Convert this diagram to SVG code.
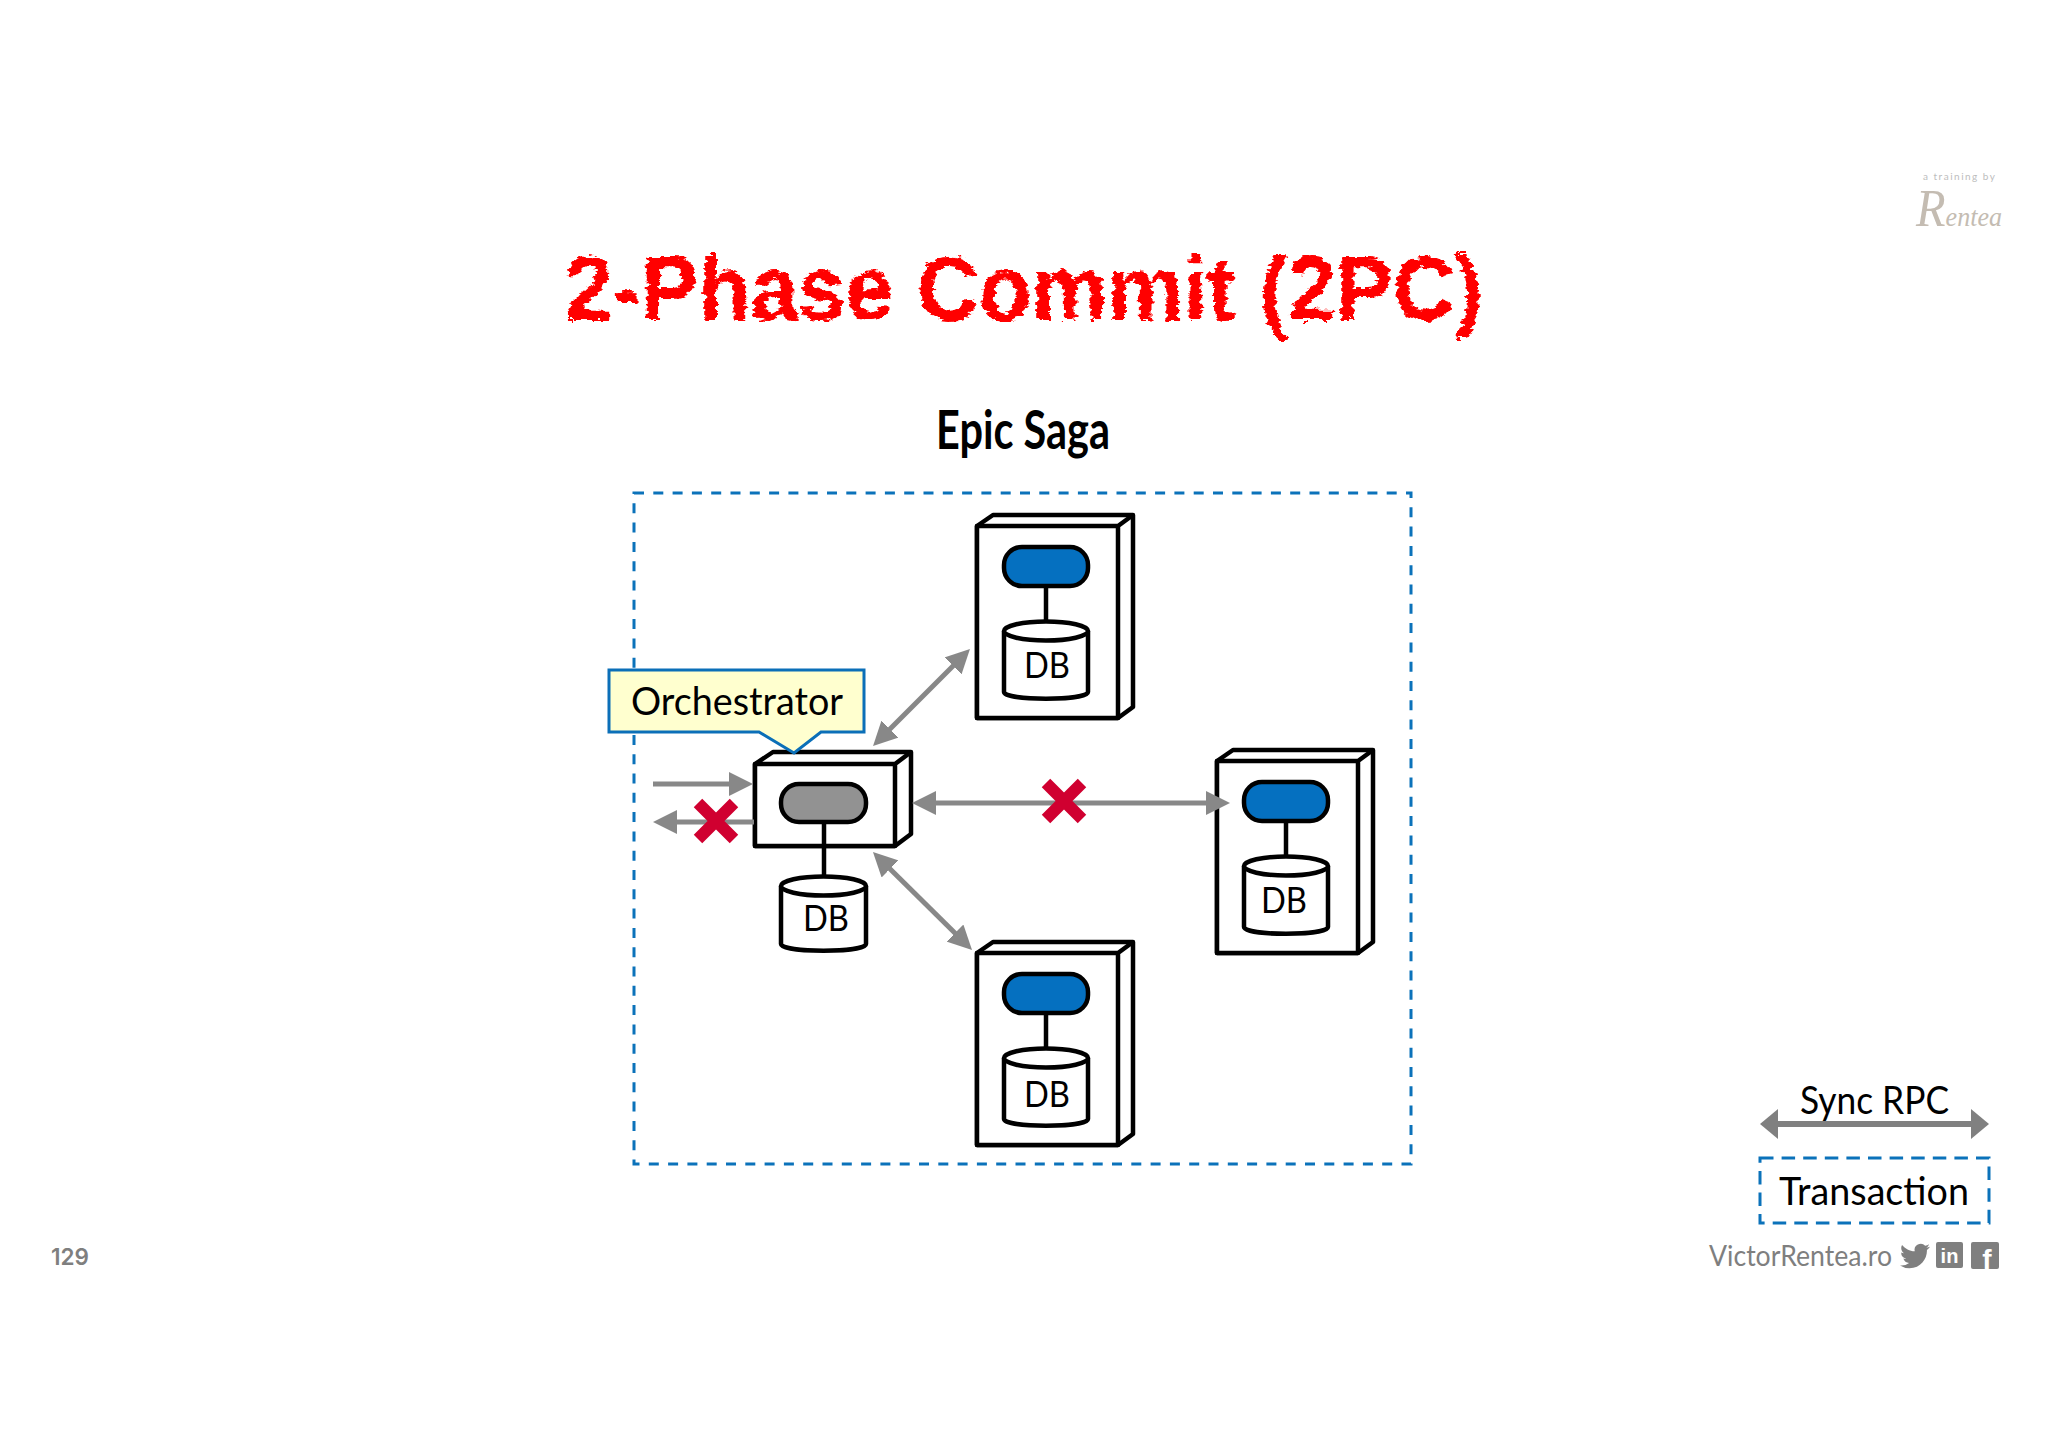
<svg xmlns="http://www.w3.org/2000/svg" xmlns:xlink="http://www.w3.org/1999/xlink" width="2048" height="1448" viewBox="0 0 2048 1448">
<style>
.ink{fill:#fff;stroke:#000;stroke-width:4.5;stroke-linejoin:round}
.wire{fill:none;stroke:#000;stroke-width:4.5}
.blue{fill:#0570c0;stroke:#000;stroke-width:4.5}
.grey{fill:#929292;stroke:#000;stroke-width:4.5}
.lbl{font-family:Lato,"Open Sans",sans-serif;fill:#000}
.db{font-size:37px;text-anchor:middle}
.conn{fill:none;stroke:#888;stroke-width:5}
.foot{font-family:Lato,"Open Sans",sans-serif;fill:#7f7f7f}
.dash{fill:none;stroke:#0b72ba;stroke-width:3}
.cross{fill:none;stroke:#d00030;stroke-width:12}
</style>
<defs>
<filter id="rough" x="-3%" y="-15%" width="106%" height="130%">
<feTurbulence type="fractalNoise" baseFrequency="0.09 0.22" numOctaves="3" seed="7" result="n"/>
<feDisplacementMap in="SourceGraphic" in2="n" scale="10" xChannelSelector="R" yChannelSelector="G"/>
</filter>
<marker id="head" markerUnits="userSpaceOnUse" viewBox="0 0 24 24" markerWidth="24" markerHeight="24" refX="12" refY="12" orient="auto-start-reverse"><path d="M0 0L24 12L0 24Z" fill="#888"/></marker>
<marker id="headL" markerUnits="userSpaceOnUse" viewBox="0 0 18 30" markerWidth="18" markerHeight="30" refX="8" refY="15" orient="auto-start-reverse"><path d="M0 0L18 15L0 30Z" fill="#808080"/></marker>
<g id="server">
<path class="ink" d="M977 526L993 515H1133V707L1118 718H977Z"/>
<path class="ink" d="M977 526H1118V718H977ZM1118 526L1133 515M1118 526V718"/>
<rect class="blue" x="1004" y="547" width="84" height="39" rx="18"/>
<path class="wire" d="M1046 586V620"/>
<path class="ink" d="M1004 631V692C1004 701 1088 701 1088 692V631"/>
<ellipse class="ink" cx="1046" cy="631" rx="42" ry="9.5"/>
</g>
</defs>
<rect width="2048" height="1448" fill="#fff"/>
<g id="title"><text x="1024" y="320" text-anchor="middle" font-family="'Liberation Sans',sans-serif" font-weight="700" font-size="90" fill="#f00" filter="url(#rough)" textLength="918" lengthAdjust="spacingAndGlyphs">2-Phase Commit (2PC)</text></g>
<g id="subtitle"><text class="lbl" x="1023" y="449" text-anchor="middle" font-size="54" font-weight="700" textLength="174" lengthAdjust="spacingAndGlyphs">Epic Saga</text></g>
<g id="logo">
<text x="1923" y="180" font-family="Lato,sans-serif" font-size="10" fill="#bdbdbd" textLength="72">a training by</text>
<text x="1916" y="226" font-family="'Liberation Serif',serif" font-style="italic" fill="#c4bcb2" textLength="86" lengthAdjust="spacingAndGlyphs"><tspan font-size="52">R</tspan><tspan font-size="28">entea</tspan></text>
</g>
<g id="transaction-boundary"><rect class="dash" x="634" y="493" width="777" height="671" stroke-dasharray="10 9.3"/></g>
<g id="service-top"><use href="#server"/><text class="lbl db" x="1047" y="678" textLength="46" lengthAdjust="spacingAndGlyphs">DB</text></g>
<g id="service-right"><use href="#server" transform="translate(240 235)"/><text class="lbl db" x="1284" y="913" textLength="46" lengthAdjust="spacingAndGlyphs">DB</text></g>
<g id="service-bottom"><use href="#server" transform="translate(0 427)"/><text class="lbl db" x="1047" y="1107" textLength="46" lengthAdjust="spacingAndGlyphs">DB</text></g>
<g id="orchestrator">
<path class="ink" d="M755 764L773 752H911V834L895 846H755Z"/>
<path class="ink" d="M755 764H895V846H755ZM895 764L911 752M895 764V846"/>
<rect class="grey" x="781" y="784" width="85" height="38" rx="18"/>
<path class="wire" d="M824 822V876"/>
<path class="ink" d="M781 886V944C781 953 866 953 866 944V886"/>
<ellipse class="ink" cx="823.500" cy="886" rx="42.500" ry="9.500"/>
<text class="lbl db" x="826" y="931" textLength="46" lengthAdjust="spacingAndGlyphs">DB</text>
</g>
<g id="orchestrator-callout">
<path d="M609 670H864V732H821L794 753L759 732H609Z" fill="#ffffcf" stroke="#0b6fb8" stroke-width="3"/>
<text class="lbl" x="631" y="715" font-size="38" textLength="212" lengthAdjust="spacingAndGlyphs">Orchestrator</text>
</g>
<g id="connectors">
<path class="conn" d="M881.500 737.500L961.500 657.500" marker-start="url(#head)" marker-end="url(#head)"/>
<path class="conn" d="M881.500 860.500L963.500 941.500" marker-start="url(#head)" marker-end="url(#head)"/>
<path class="conn" d="M924 803H1218" marker-start="url(#head)" marker-end="url(#head)"/>
<path class="conn" d="M653 784H741" marker-end="url(#head)"/>
<path class="conn" d="M754 822H665" marker-end="url(#head)"/>
</g>
<g id="failures">
<path class="cross" d="M698 803L734 839M734 803L698 839"/>
<path class="cross" d="M1046 783L1082 819M1082 783L1046 819"/>
</g>
<g id="legend">
<text class="lbl" x="1800" y="1114" font-size="38" textLength="149" lengthAdjust="spacingAndGlyphs">Sync RPC</text>
<path d="M1770 1124H1979" fill="none" stroke="#808080" stroke-width="6" marker-start="url(#headL)" marker-end="url(#headL)"/>
<rect class="dash" x="1760" y="1158" width="229" height="65" stroke-dasharray="13.500 8.100"/>
<text class="lbl" x="1779" y="1205" font-size="39" textLength="190" lengthAdjust="spacingAndGlyphs">Transaction</text>
</g>
<g id="footer">
<text x="51" y="1265" font-family="Inter,sans-serif" fill="#7f7f7f" font-size="23" font-weight="600" textLength="38" lengthAdjust="spacingAndGlyphs">129</text>
<text class="foot" x="1709" y="1266" font-size="28" textLength="183" lengthAdjust="spacingAndGlyphs">VictorRentea.ro</text>
<path transform="translate(1900 1241) scale(1.250)" fill="#7f7f7f" d="M23.953 4.57a10 10 0 01-2.825.775 4.958 4.958 0 002.163-2.723c-.951.555-2.005.959-3.127 1.184a4.92 4.92 0 00-8.384 4.482C7.69 8.095 4.067 6.13 1.64 3.162a4.822 4.822 0 00-.666 2.475c0 1.71.87 3.213 2.188 4.096a4.904 4.904 0 01-2.228-.616v.06a4.923 4.923 0 003.946 4.827 4.996 4.996 0 01-2.212.085 4.936 4.936 0 004.604 3.417 9.867 9.867 0 01-6.102 2.105c-.39 0-.779-.023-1.17-.067a13.995 13.995 0 007.557 2.209c9.053 0 13.998-7.496 13.998-13.985 0-.21 0-.42-.015-.63A9.935 9.935 0 0024 4.59z"/>
<rect x="1936" y="1242" width="27" height="26" rx="2" fill="#7f7f7f"/>
<text x="1949.500" y="1263" text-anchor="middle" font-family="'Liberation Sans',sans-serif" font-weight="700" font-size="20" fill="#fff">in</text>
<rect x="1971" y="1242" width="28" height="27" rx="2" fill="#7f7f7f"/>
<text x="1987" y="1269" text-anchor="middle" font-family="'Liberation Sans',sans-serif" font-weight="700" font-size="28" fill="#fff">f</text>
</g>
</svg>
